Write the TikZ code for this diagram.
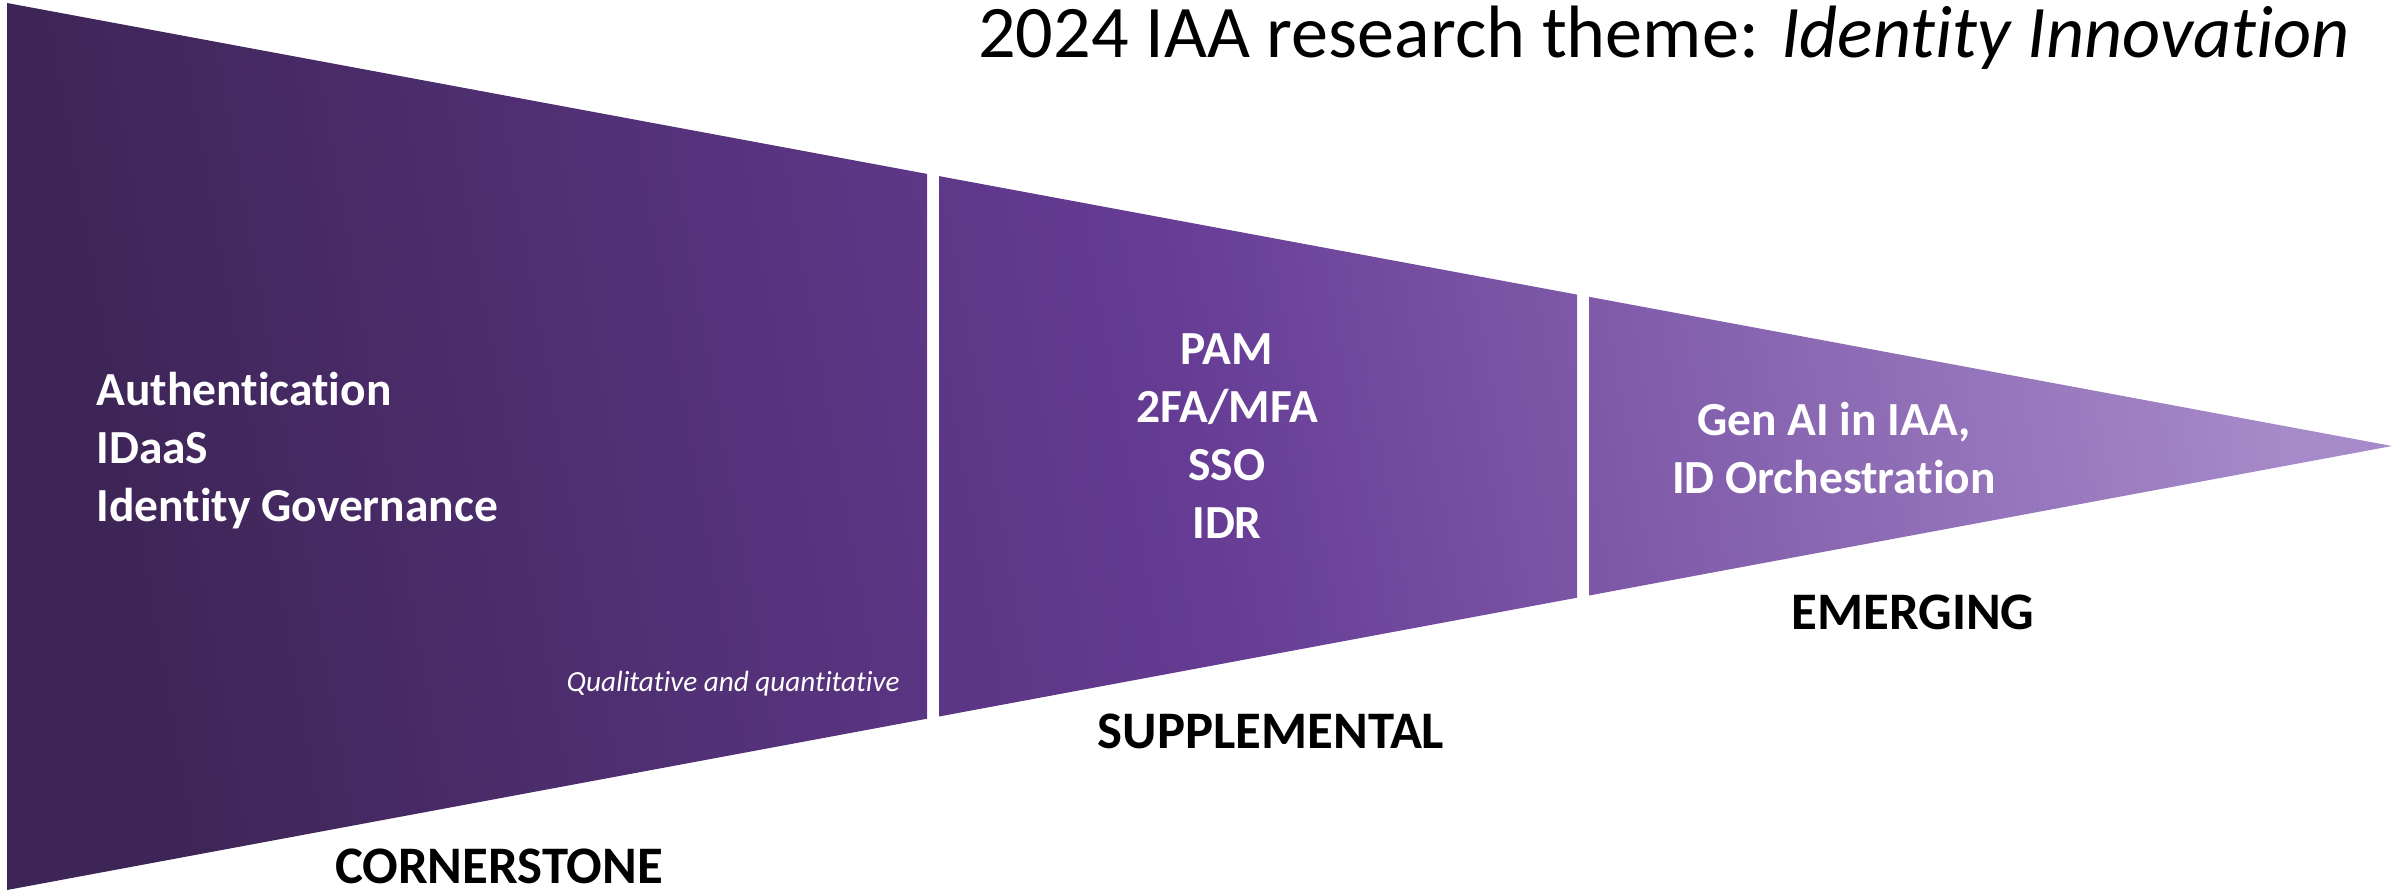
\documentclass[tikz,border=0pt]{standalone}
\usepackage{fontspec}
\setmainfont{Carlito}[Ligatures=NoCommon]
\usetikzlibrary{positioning}

\definecolor{funneldark}{HTML}{3E2557}
\definecolor{funnelmid}{HTML}{663C95}
\definecolor{funnellight}{HTML}{A68AC9}

\begin{document}
\begin{tikzpicture}[x=0.01cm,y=-0.01cm,
  stage/.style={font=\fontsize{13.5}{16.5}\selectfont\bfseries,text=white},
  stagelabel/.style={font=\fontsize{15}{18}\selectfont\bfseries,text=black,anchor=center}]
\useasboundingbox (0,0) rectangle (2407,891);

% funnel, three pieces under one shading
\shade[left color=funneldark,right color=funnellight,middle color=funnelmid,shading angle=100]
  (7,3) -- (927,173.9) -- (927,718.7) -- (7,890) -- cycle
  (939,176.1) -- (1577,294.6) -- (1577,597.7) -- (939,716.5) -- cycle
  (1589,296.8) -- (2392,446) -- (1589,595.5) -- cycle;

\node[font=\fontsize{21.1}{25}\selectfont,text=black,anchor=base east] (title) at (2362,58) {2024 IAA research theme: \textit{Identity Innovation}};

\node[stage,align=left,anchor=west] (cornertext) at (84,451) {Authentication\\IDaaS\\Identity Governance};
\node[font=\fontsize{8.3}{10}\selectfont\itshape,text=white,anchor=east] (method) at (912,684) {Qualitative and quantitative};
\node[stage,align=center] (supptext) at (1227,436) {PAM\\2FA/MFA\\SSO\\IDR};
\node[stage,align=center] (emergetext) at (1834,448) {Gen AI in IAA,\\ID Orchestration};

\node[stagelabel] (cornerstone) at (499,866) {CORNERSTONE};
\node[stagelabel] (supplemental) at (1271,731) {SUPPLEMENTAL};
\node[stagelabel] (emerging) at (1913,612) {EMERGING};

\end{tikzpicture}
\end{document}
